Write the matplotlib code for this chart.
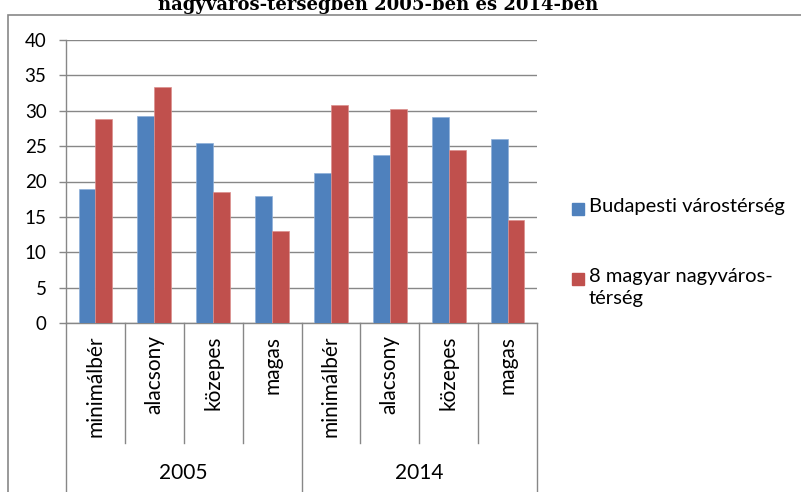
import matplotlib
matplotlib.use("Agg")
import matplotlib.pyplot as plt
from matplotlib.patches import Rectangle
import numpy as np

plt.rcParams['font.family'] = ['Lato', 'DejaVu Sans']

# data
categories = ["minimálbér", "alacsony", "közepes", "magas",
              "minimálbér", "alacsony", "közepes", "magas"]
years = ["2005", "2014"]
series_names = ["Budapesti várostérség", "8 magyar nagyváros-\ntérség"]
budapest = [19.0, 29.3, 25.4, 17.9, 21.2, 23.7, 29.1, 26.0]
nagyvaros = [28.9, 33.4, 18.5, 13.0, 30.8, 30.2, 24.4, 14.6]
title = "nagyváros-térségben 2005-ben és 2014-ben"

BLUE = '#4F81BD'
RED = '#C0504D'
GRID = '#878787'
W, H = 801, 492

fig = plt.figure(figsize=(W / 100, H / 100), dpi=100)

# outer chart frame (runs off the right and bottom of the picture)
fig.patches.append(Rectangle((8 / W, -0.05), 1.1, 1 - 15 / H + 0.05,
                             transform=fig.transFigure, fill=False,
                             edgecolor=GRID, linewidth=1.2))

# title is cropped at the top in the reference
fig.text(158 / W, 1 - 10 / H, title, ha='left', va='baseline',
         family='DejaVu Serif', fontweight='bold', fontsize=13)

ax = fig.add_axes([66 / W, (H - 323) / H, (537 - 66) / W, (323 - 40) / H])

x = np.arange(len(categories))
bw = 0.286
ax.bar(x - bw / 2, budapest, bw, color=BLUE, edgecolor='#8FB0DA', linewidth=0.5, zorder=3)
ax.bar(x + bw / 2, nagyvaros, bw, color=RED, edgecolor='#DC8F8D', linewidth=0.5, zorder=3)

ax.set_xlim(-0.5, len(categories) - 0.5)
ax.set_ylim(0, 40)
ax.set_yticks(np.arange(0, 41, 5))
ax.yaxis.grid(True, color=GRID, linewidth=1.0)
ax.set_axisbelow(True)
for s in ['top', 'right']:
    ax.spines[s].set_visible(False)
for s in ['left', 'bottom']:
    ax.spines[s].set_color(GRID)
    ax.spines[s].set_linewidth(1.0)

ax.tick_params(axis='y', length=5, color=GRID, width=1.0, pad=9, labelsize=13.5)
ax.set_xticks(x)
ax.set_xticklabels(categories, rotation=90, fontsize=15)
ax.tick_params(axis='x', length=0, pad=9)

# multi-level category dividers
tr = ax.get_xaxis_transform()
inner = -(443 - 323) / 283
outer = -(495 - 323) / 283
for b in np.arange(-0.5, len(categories), 1):
    depth = outer if b in (-0.5, 3.5, 7.5) else inner
    ax.plot([b, b], [0, depth], transform=tr, color=GRID, lw=1.0, clip_on=False)
for i, yr in enumerate(years):
    ax.text(1.5 + 4 * i, -(473 - 323) / 283, yr, transform=tr,
            ha='center', va='center', fontsize=15)

# legend
for name, col, yc in [(series_names[0], BLUE, 209), (series_names[1], RED, 279)]:
    fig.patches.append(Rectangle((572 / W, (H - yc - 6) / H), 12 / W, 12 / H,
                                 transform=fig.transFigure, color=col))
    fig.text(589 / W, (H - yc + 11) / H, name, ha='left', va='top', fontsize=14.5,
             linespacing=1.35, transform=fig.transFigure)

fig.savefig("out.png", dpi=100)
